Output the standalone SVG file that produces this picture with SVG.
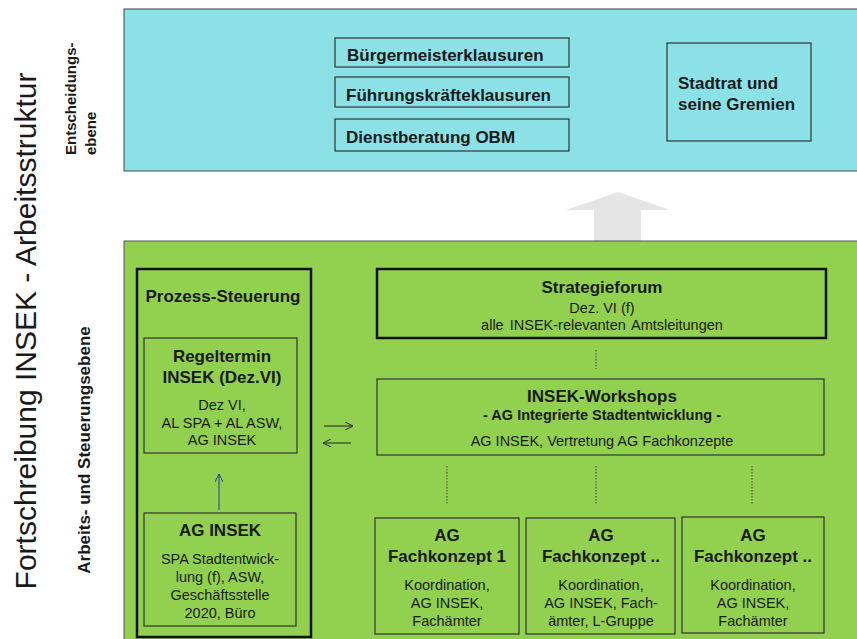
<svg xmlns="http://www.w3.org/2000/svg" width="857" height="639" viewBox="0 0 857 639">
<style>
text{font-family:"Liberation Sans",Arial,sans-serif;fill:#1a1a1a;text-anchor:middle}
.h{font-weight:bold;font-size:17px}
.s{font-size:14.5px}
.sb{font-weight:bold;font-size:14.5px}
.box{fill:none;stroke:#333;stroke-width:1.2}
.thick{fill:none;stroke:#111;stroke-width:2.5}
.dot{stroke:#444;stroke-width:1;stroke-dasharray:1.5 1.5}
</style>
<defs>
<marker id="ah" viewBox="0 0 10 10" refX="10" refY="5" markerWidth="8" markerHeight="8" orient="auto" markerUnits="userSpaceOnUse"><path d="M0,0 L10,5 L0,10" fill="none" stroke="#222" stroke-width="1.2"/></marker>
<marker id="ahb" viewBox="0 0 10 10" refX="10" refY="5" markerWidth="8" markerHeight="8" orient="auto" markerUnits="userSpaceOnUse"><path d="M0,0 L10,5 L0,10" fill="none" stroke="#1f3fa0" stroke-width="1.2"/></marker>
</defs>
<rect width="857" height="639" fill="#fff"/>
<g id="labels">
<text transform="translate(36,331) rotate(-90)" style="font-size:30px">Fortschreibung INSEK - Arbeitsstruktur</text>
<text transform="translate(76,155) rotate(-90)" style="font-weight:bold;font-size:15px;text-anchor:start">Entscheidungs-</text>
<text transform="translate(96,155) rotate(-90)" style="font-weight:bold;font-size:15px;text-anchor:start">ebene</text>
<text transform="translate(90,450) rotate(-90)" style="font-weight:bold;font-size:17px">Arbeits- und Steuerungsebene</text>
</g>
<g id="entscheidungsebene">
<rect x="124" y="9" width="740" height="162" fill="#8BE1E6" stroke="#444" stroke-width="1"/>
</g>
<g id="buergermeister"><rect class="box" x="335" y="38" width="234" height="29"/><text class="h" x="347" y="61" style="text-anchor:start">Bürgermeisterklausuren</text></g>
<g id="fuehrung"><rect class="box" x="335" y="77" width="234" height="30"/><text class="h" x="346" y="101" style="text-anchor:start">Führungskräfteklausuren</text></g>
<g id="dienstberatung"><rect class="box" x="335" y="119" width="234" height="32"/><text class="h" x="346" y="143" style="text-anchor:start">Dienstberatung OBM</text></g>
<g id="stadtrat"><rect class="box" x="667" y="43" width="144" height="98"/><text class="h" x="678" y="89" style="text-anchor:start">Stadtrat und</text><text class="h" x="678" y="110" style="text-anchor:start">seine Gremien</text></g>
<g id="uparrow"><path d="M618,192 L670,210 L641,210 L641,241 L594,241 L594,210 L566,210 Z" fill="#e5e5e5"/></g>
<g id="arbeitsebene">
<rect x="124" y="241" width="740" height="410" fill="#92D050" stroke="#555" stroke-width="1"/>
</g>
<g id="prozess"><rect class="thick" x="137" y="269" width="174" height="368"/><text class="h" x="223" y="302">Prozess-Steuerung</text></g>
<g id="regeltermin"><rect class="box" x="144" y="338" width="153" height="115"/>
<text class="h" x="222" y="362">Regeltermin</text><text class="h" x="222" y="383">INSEK (Dez.VI)</text>
<text class="s" x="222" y="410">Dez VI,</text><text class="s" x="222" y="428">AL SPA + AL ASW,</text><text class="s" x="222" y="445">AG INSEK</text></g>
<g id="aginsek"><rect class="box" x="144" y="513" width="152" height="113"/>
<text class="h" x="220" y="536">AG INSEK</text>
<text class="s" x="220" y="564">SPA Stadtentwick-</text><text class="s" x="220" y="582">lung (f), ASW,</text><text class="s" x="220" y="600">Geschäftsstelle</text><text class="s" x="220" y="618">2020, Büro</text></g>
<g id="strategieforum"><rect class="thick" x="377" y="269" width="449" height="69"/>
<text class="h" x="602" y="293">Strategieforum</text><text class="s" x="602" y="313">Dez. VI (f)</text><text class="s" x="602" y="330" style="word-spacing:2px">alle INSEK-relevanten  Amtsleitungen</text></g>
<g id="workshops"><rect class="box" x="377" y="379" width="447" height="76"/>
<text class="h" x="602" y="402">INSEK-Workshops</text><text class="sb" x="602" y="420">- AG Integrierte Stadtentwicklung  -</text><text class="s" x="602" y="446">AG INSEK, Vertretung AG Fachkonzepte</text></g>
<g id="fk1"><rect class="box" x="375" y="518" width="144" height="116"/>
<text class="h" x="447" y="541">AG</text><text class="h" x="447" y="562">Fachkonzept 1</text>
<text class="s" x="447" y="590">Koordination,</text><text class="s" x="447" y="608">AG INSEK,</text><text class="s" x="447" y="626">Fachämter</text></g>
<g id="fk2"><rect class="box" x="526" y="518" width="149" height="116"/>
<text class="h" x="601" y="541">AG</text><text class="h" x="601" y="562">Fachkonzept ..</text>
<text class="s" x="601" y="590">Koordination,</text><text class="s" x="601" y="608">AG INSEK, Fach-</text><text class="s" x="601" y="626">ämter,  L-Gruppe</text></g>
<g id="fk3"><rect class="box" x="682" y="517" width="142" height="116"/>
<text class="h" x="753" y="541">AG</text><text class="h" x="753" y="562">Fachkonzept ..</text>
<text class="s" x="753" y="590">Koordination,</text><text class="s" x="753" y="608">AG INSEK,</text><text class="s" x="753" y="626">Fachämter</text></g>
<g id="connectors">
<line x1="219" y1="510" x2="219" y2="474" stroke="#1f3fa0" stroke-width="1" marker-end="url(#ahb)"/>
<line x1="324" y1="426" x2="353" y2="426" stroke="#222" stroke-width="1" marker-end="url(#ah)"/>
<line x1="351" y1="443" x2="323" y2="443" stroke="#222" stroke-width="1" marker-end="url(#ah)"/>
<line class="dot" x1="596" y1="350" x2="596" y2="369"/>
<line class="dot" x1="447" y1="466" x2="447" y2="504"/>
<line class="dot" x1="596" y1="466" x2="596" y2="504"/>
<line class="dot" x1="752" y1="466" x2="752" y2="504"/>
</g>
</svg>
